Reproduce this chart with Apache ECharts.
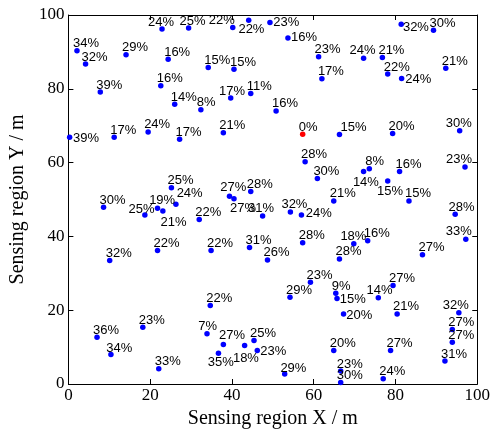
<!DOCTYPE html>
<html>
<head>
<meta charset="utf-8">
<script src="https://cdn.jsdelivr.net/npm/echarts@6/dist/echarts.min.js"></script>
<style>
html, body { margin: 0; padding: 0; background: #fff; }
#chart { width: 493px; height: 434px; }
</style>
</head>
<body>
<div id="chart"></div>
<script>
// sensor node positions (m) and the percentage printed next to each node
const nodeX = [
  22.9, 29.4, 2.1, 4.2, 14.1, 24.4, 22.6, 7.8, 26.0, 32.4,
  19.5, 40.2, 44.1, 49.3, 53.7, 61.2, 62.0, 34.2, 40.5, 39.7,
  44.6, 50.8, 37.9, 57.3, 81.4, 89.3, 72.2, 76.8, 78.1, 81.5,
  92.3, 66.3, 79.3, 95.7, 0.3, 11.2, 27.2, 25.2, 26.3, 8.6,
  18.7, 21.8, 23.1, 32.0, 21.8, 57.9, 60.9, 39.4, 44.6, 40.5,
  47.5, 54.3, 57.0, 64.9, 34.9, 44.3, 57.3, 48.7, 97.0, 73.6,
  72.2, 81.0, 78.1, 83.3, 94.6, 69.8, 73.2, 97.2, 66.3, 86.6,
  10.1, 18.2, 7.0, 10.4, 22.1, 33.9, 59.2, 54.2, 65.4, 65.7,
  67.3, 34.7, 37.9, 36.7, 43.1, 45.4, 46.2, 52.9, 64.9, 66.6,
  66.6, 79.4, 75.8, 80.4, 78.8, 77.0, 95.5, 93.9, 93.9, 92.1
];
const nodeY = [
  96.2, 96.5, 90.3, 86.7, 89.2, 88.0, 80.8, 79.1, 75.8, 74.3,
  68.3, 96.6, 98.6, 98.0, 93.8, 88.7, 82.7, 85.8, 85.3, 77.5,
  78.7, 74.0, 68.1, 67.7, 97.5, 95.9, 88.3, 88.5, 84.0, 82.8,
  85.6, 67.6, 67.9, 68.6, 66.9, 66.9, 66.3, 53.2, 48.7, 47.9,
  45.8, 47.6, 46.9, 44.6, 36.2, 60.2, 55.7, 50.9, 52.2, 50.2,
  45.5, 46.6, 45.8, 49.6, 36.2, 37.0, 38.3, 33.6, 58.8, 58.3,
  57.6, 57.6, 55.0, 49.6, 46.0, 38.0, 38.8, 39.2, 33.9, 35.0,
  33.5, 15.4, 12.7, 8.0, 4.1, 13.6, 27.6, 23.5, 24.6, 23.2,
  19.0, 21.3, 10.7, 8.3, 10.4, 11.8, 9.1, 2.7, 9.1, 3.5,
  0.4, 26.7, 23.4, 19.0, 9.1, 1.4, 19.3, 14.8, 11.3, 6.2
];
const nodePct = [
  24, 25, 34, 32, 29, 16, 16, 39, 14, 8,
  24, 22, 22, 23, 16, 23, 17, 15, 15, 17,
  11, 16, 21, 0, 32, 30, 24, 21, 22, 24,
  21, 15, 20, 30, 39, 17, 17, 25, 24, 30,
  25, 19, 21, 22, 22, 28, 30, 27, 28, 27,
  31, 32, 24, 21, 22, 31, 28, 26, 23, 8,
  14, 16, 15, 15, 28, 18, 16, 33, 28, 27,
  32, 23, 36, 34, 33, 7, 23, 29, 9, 15,
  20, 22, 27, 35, 18, 25, 23, 29, 20, 23,
  30, 27, 14, 21, 27, 24, 32, 27, 27, 31
];

// where each text sits next to its dot (px from dot centre to text left / baseline)
const defaultShift = [-4, -2.5];
const labelShift = {
  0: [-14, -2], 1: [-9, -2], 11: [-24, -2.7], 12: [-10.3, 14.3], 13: [3.3, 4.4],
  14: [3, 4.6], 19: [-11.7, -2.3], 24: [1.7, 8], 26: [-14, -3.3], 29: [3.7, 5.7],
  31: [1, -2.5], 33: [-14, -3.3], 34: [3.3, 6], 38: [0.7, -6], 40: [-16.3, -0.7],
  41: [-8.4, -3.3], 42: [-2.3, 15.7], 47: [-9.3, -4.6], 49: [-4, 14.6], 50: [-14.6, -2.7],
  51: [-9, -3], 52: [4.3, 3.3], 58: [-19, -2.7], 60: [-10.7, 15.4], 62: [-10.7, 15],
  64: [-6.7, -2.7], 65: [-13.4, -2.7], 67: [-20, -3.3], 73: [-4.7, -1], 75: [-8.7, -2.7],
  79: [2.7, 6], 80: [2.7, 6], 82: [-4.3, -4.7], 83: [-10.7, 13.4], 84: [-11.7, 17.6],
  86: [3, 5.4], 87: [-4.3, -0.7], 92: [-11.7, -2.7], 96: [-16, -2.7]
};

const dotSize = 5.5;
const serif = '"Liberation Serif", "Times New Roman", serif';

const points = nodeX.map(function (x, i) {
  const s = labelShift[i] || defaultShift;
  return {
    value: [x, nodeY[i], nodePct[i]],
    itemStyle: { color: nodePct[i] === 0 ? '#ff0000' : '#0000ff', opacity: 1 },
    label: { position: [dotSize / 2 + s[0], dotSize / 2 + s[1] - 4.6] }
  };
});

const lineStyle = { color: '#000', width: 1 };

function axis(pos, main, name) {
  const a = {
    type: 'value',
    position: pos,
    min: 0,
    max: 100,
    interval: 20,
    axisLine: { show: true, onZero: false, lineStyle: lineStyle },
    axisTick: { show: true, inside: true, length: 5, lineStyle: lineStyle },
    axisLabel: { show: main, color: '#000', fontFamily: serif, fontSize: 17, margin: 4 },
    splitLine: { show: false }
  };
  if (main) {
    a.name = name;
    a.nameLocation = 'middle';
    a.nameTextStyle = { color: '#000', fontFamily: serif, fontSize: 20 };
  }
  return a;
}

const xBottom = axis('bottom', true, 'Sensing region X / m');
xBottom.nameGap = 24;
xBottom.axisLabel.margin = 3;
const yLeft = axis('left', true, 'Sensing region Y / m');
yLeft.nameGap = 29;

const chart = echarts.init(document.getElementById('chart'));
chart.setOption({
  animation: false,
  backgroundColor: '#fff',
  grid: { left: 55.5, right: 14.5, top: 15, bottom: 50 },
  xAxis: [xBottom, axis('top', false)],
  yAxis: [yLeft, axis('right', false)],
  series: [{
    type: 'scatter',
    xAxisIndex: 0,
    yAxisIndex: 0,
    symbol: 'circle',
    symbolSize: dotSize,
    itemStyle: { opacity: 1 },
    data: points,
    label: {
      show: true,
      formatter: function (p) { return p.value[2] + '%'; },
      color: '#000',
      fontFamily: '"Liberation Sans", Arial, sans-serif',
      fontSize: 13,
      align: 'left',
      verticalAlign: 'middle'
    }
  }]
});
</script>
</body>
</html>
